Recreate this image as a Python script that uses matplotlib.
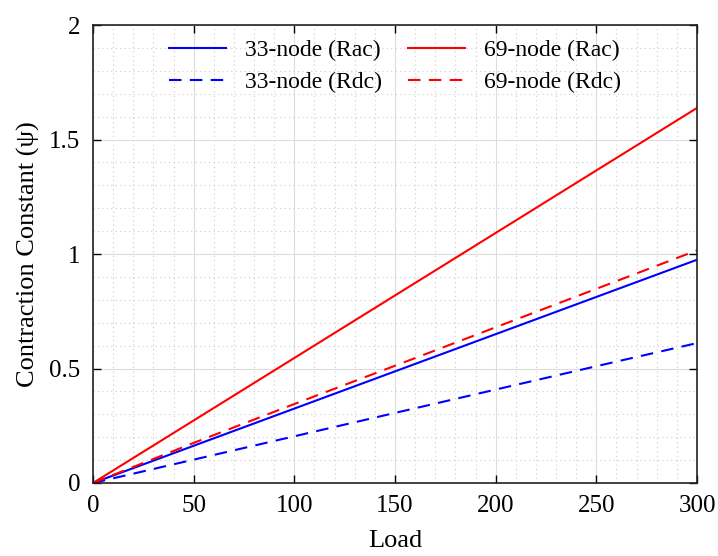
import numpy as np
import matplotlib.pyplot as plt
from matplotlib.ticker import MultipleLocator

plt.rcParams['font.family'] = ['Liberation Serif', 'DejaVu Serif']

load = [0, 50, 100, 150, 200, 250, 300]
rac_33 = [0, 0.1625, 0.325, 0.4875, 0.65, 0.8125, 0.975]
rdc_33 = [0, 0.102, 0.204, 0.306, 0.408, 0.51, 0.611]
rac_69 = [0, 0.273, 0.546, 0.819, 1.092, 1.365, 1.638]
rdc_69 = [0, 0.175, 0.345, 0.512, 0.68, 0.848, 1.016]

fig = plt.figure(figsize=(7.18, 5.56), dpi=100)
ax = fig.add_axes([0.1295, 0.1313, 0.8413, 0.8237])

h1, = ax.plot(load, rac_33, color='blue', lw=1.5, label='33-node (Rac)')
h2, = ax.plot(load, rac_69, color='red', lw=1.5, label='69-node (Rac)')
h3, = ax.plot(load, rdc_33, color='blue', lw=1.5, ls=(0, (6, 4)), label='33-node (Rdc)')
h4, = ax.plot(load, rdc_69, color='red', lw=1.5, ls=(0, (6, 4)), label='69-node (Rdc)')

ax.set_xlim(0, 300)
ax.set_ylim(0, 2)
ax.xaxis.set_major_locator(MultipleLocator(50))
ax.xaxis.set_minor_locator(MultipleLocator(10))
ax.yaxis.set_major_locator(MultipleLocator(0.5))
ax.yaxis.set_minor_locator(MultipleLocator(0.1))
ax.set_yticks([0, 0.5, 1, 1.5, 2])
ax.set_yticklabels(['0', '0.5', '1', '1.5', '2'])

ax.grid(which='major', color='#dcdcdc', lw=0.8)
ax.grid(which='minor', color='#cccccc', lw=0.8, ls=(0, (1, 3)))
ax.set_axisbelow(True)
ax.tick_params(which='major', direction='in', length=6, top=True, right=True,
               labelsize=18, pad=9, width=1)
ax.tick_params(which='minor', length=0)
for s in ax.spines.values():
    s.set_linewidth(1.2)
    s.set_color('#222222')

ax.set_xlabel('Load', fontsize=19, labelpad=9)
ax.set_ylabel('Contraction Constant (ψ)', fontsize=19, labelpad=7)

ax.legend(handles=[h1, h3, h2, h4], ncol=2, loc='upper center',
          bbox_to_anchor=(0.5, 1.015), frameon=False,
          fontsize=17, handlelength=2.4, columnspacing=1.1, handletextpad=0.8,
          labelspacing=0.45)

fig.savefig('out.png', dpi=100)
